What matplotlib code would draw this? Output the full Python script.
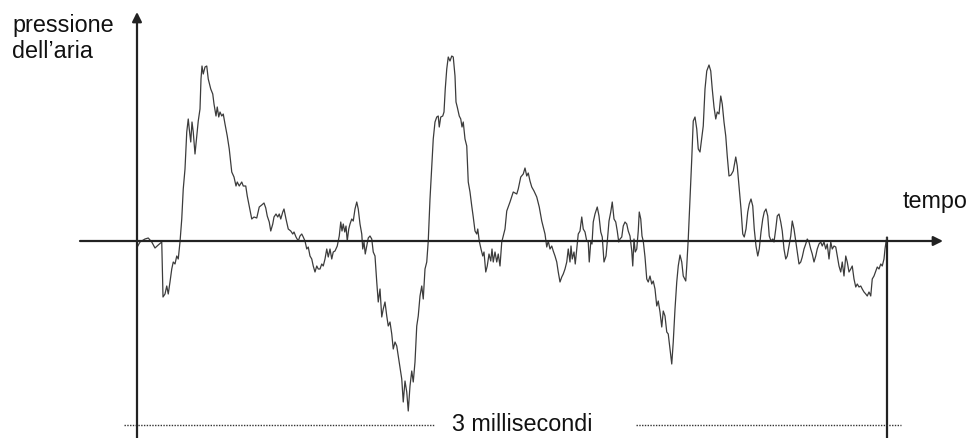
import matplotlib
matplotlib.use("Agg")
import matplotlib.pyplot as plt

# ---- data: air pressure trace over 3 ms (time in microseconds, pressure in arbitrary units)
time_us = [1, 12, 32, 45, 59, 72, 85, 99, 104, 112, 119, 125, 132, 139, 145, 152, 159, 165,
           172, 179, 185, 192, 199, 205, 209, 215, 220, 225, 232, 239, 245, 252, 256, 260,
           265, 272, 279, 285, 295, 303, 308, 316, 321, 327, 332, 339, 345, 352, 361, 369,
           379, 388, 396, 401, 409, 419, 425, 435, 441, 449, 459, 468, 479, 489, 499, 508,
           515, 521, 529, 535, 543, 548, 556, 563, 569, 575, 583, 588, 596, 605, 615, 623,
           628, 636, 645, 652, 659, 665, 672, 679, 685, 692, 699, 705, 712, 719, 725,
           732, 739, 745, 752, 759, 765, 772, 779, 785, 792, 801, 809, 815, 820, 825, 831,
           836, 841, 847, 852, 859, 865, 872, 879, 885, 892, 899, 903, 908, 913, 919, 925,
           932, 939, 945, 952, 959, 965, 972, 979, 985, 992, 999, 1005, 1012, 1019, 1025,
           1032, 1039, 1045, 1052, 1059, 1065, 1072, 1079, 1085, 1092, 1099, 1105, 1112,
           1119, 1125, 1132, 1139, 1145, 1152, 1159, 1165, 1172, 1179, 1185, 1192, 1199,
           1205, 1209, 1215, 1223, 1228, 1233, 1239, 1245, 1252, 1259, 1265, 1272, 1276,
           1281, 1289, 1295, 1300, 1305, 1312, 1319, 1325, 1332, 1339, 1345, 1352, 1359,
           1363, 1369, 1376, 1383, 1388, 1395, 1401, 1408, 1415, 1420, 1425, 1432, 1439,
           1445, 1452, 1459, 1465, 1472, 1479, 1492, 1505, 1519, 1525, 1535, 1545, 1552,
           1559, 1565, 1572, 1579, 1588, 1599, 1609, 1619, 1625, 1632, 1639, 1645, 1652,
           1659, 1665, 1672, 1679, 1685, 1692, 1699, 1705, 1712, 1719, 1725, 1732, 1736,
           1741, 1748, 1753, 1759, 1765, 1772, 1779, 1785, 1792, 1799, 1805, 1809, 1815,
           1820, 1825, 1832, 1841, 1848, 1855, 1861, 1868, 1876, 1881, 1888, 1895, 1901,
           1908, 1915, 1921, 1927, 1932, 1939, 1945, 1952, 1959, 1965, 1972, 1979, 1983,
           1988, 1993, 1999, 2005, 2009, 2015, 2020, 2025, 2032, 2039, 2045, 2052, 2059,
           2065, 2072, 2079, 2085, 2092, 2099, 2105, 2112, 2119, 2125, 2132, 2139, 2145,
           2152, 2159, 2165, 2172, 2179, 2185, 2195, 2199, 2205, 2212, 2219, 2225, 2232,
           2239, 2245, 2252, 2265, 2272, 2279, 2288, 2295, 2301, 2308, 2315, 2321, 2328,
           2335, 2341, 2348, 2355, 2361, 2368, 2376, 2385, 2395, 2401, 2409, 2416, 2423,
           2429, 2436, 2443, 2449, 2456, 2463, 2469, 2476, 2483, 2489, 2496, 2503, 2509,
           2516, 2523, 2529, 2536, 2543, 2548, 2555, 2561, 2568, 2575, 2581, 2588, 2595,
           2601, 2608, 2615, 2621, 2628, 2635, 2641, 2648, 2655, 2661, 2668, 2675, 2681,
           2688, 2695, 2701, 2708, 2715, 2721, 2728, 2735, 2741, 2748, 2755, 2761, 2768,
           2775, 2781, 2788, 2795, 2801, 2808, 2815, 2821, 2828, 2835, 2841, 2848, 2855,
           2861, 2868, 2875, 2881, 2888, 2895, 2901, 2908, 2915, 2921, 2928, 2935, 2941,
           2948, 2955, 2961, 2968, 2975, 2981, 2988, 2992, 2996, 3000]
pressure = [-6, -1, 2, 3, -1, -7, -4, -1, -56, -53, -45, -53, -41, -28, -21, -23, -15, -18,
            -1, 22, 52, 72, 109, 122, 112, 99, 119, 109, 87, 105, 120, 132, 162, 175,
            167, 174, 175, 162, 152, 147, 137, 125, 134, 124, 129, 125, 127, 117, 105, 92,
            69, 64, 55, 59, 55, 59, 55, 55, 45, 35, 22, 24, 23, 34, 36, 38,
            33, 25, 19, 10, 17, 24, 27, 24, 27, 22, 29, 32, 22, 12, 10, 7,
            9, 4, 0, 5, 7, 4, 0, -8, -6, -15, -18, -25, -31, -25, -28,
            -28, -23, -25, -18, -8, -16, -8, -18, -11, -10, -5, 5, 19, 10, 17, 9,
            15, 0, 12, 17, 22, 20, 32, 39, 32, 17, 7, -8, -1, -13, -5, 3,
            5, 2, -11, -15, -41, -61, -48, -76, -68, -61, -75, -85, -81, -93, -108,
            -101, -105, -115, -126, -138, -161, -140, -151, -170, -145, -130, -141, -121,
            -85, -75, -55, -45, -58, -28, -21, 0, 42, 75, 102, 119, 124,
            125, 114, 124, 125, 129, 152, 172, 184, 180, 185, 184, 165, 139,
            134, 125, 122, 114, 119, 102, 95, 59, 49, 35, 24, 10, 7,
            12, 0, -8, -15, -11, -31, -25, -13, -20, -8, -21, -11, -21,
            -13, -25, -1, 5, 12, 30, 39, 49, 47, 52, 64, 67, 73,
            65, 68, 60, 54, 50, 44, 34, 20, 14, 7, -6, 0, -8,
            -5, -10, -15, -21, -31, -41, -36, -33, -28, -21, -8, -21, -5,
            -18, -11, -23, -8, 7, 10, 24, 12, 9, 0, -1, -21, -1,
            -3, 19, 27, 34, 25, 9, 4, -21, -15, -1, 20, 29, 39,
            22, 19, 10, -1, 2, 4, 15, 19, 17, 10, 5, -10, -25,
            2, -11, -8, 10, 29, 22, 5, 0, -16, -38, -41, -35, -43,
            -40, -48, -65, -60, -71, -86, -70, -75, -91, -93, -108, -123, -101,
            -68, -41, -25, -14, -21, -35, -40, -25, 2, 42, 82, 120, 124,
            112, 92, 89, 115, 152, 170, 176, 170, 152, 134, 122, 129, 127,
            145, 137, 119, 105, 85, 65, 66, 70, 84, 75, 52, 32, 7,
            4, 12, 29, 37, 42, 35, 12, -5, -15, -8, 9, 22, 29,
            32, 25, 5, 0, 2, -1, 12, 25, 27, 19, 10, -8, -18,
            -15, -5, 5, 20, 12, 0, -11, -23, -21, -16, -8, -3, 2,
            -1, -8, -13, -21, -15, -8, -3, -1, -5, -1, -8, -3, -18,
            -1, -8, -5, -6, -15, -25, -31, -21, -35, -15, -21, -31, -28,
            -25, -38, -46, -43, -46, -45, -48, -51, -53, -55, -51, -55, -38,
            -35, -30, -26, -28, -23, -25, -18, -8, -1, 4]

span_label = "3 millisecondi"
y_label_lines = ["pressione", "dell\u2019aria"]
x_label = "tempo"

plt.rcParams["font.family"] = ["Liberation Sans", "DejaVu Sans"]
FS = 16.8

fig = plt.figure(figsize=(9.71, 4.39), dpi=100)
ax = fig.add_axes([0, 0, 1, 1])
ax.set_xlim(-548, 3336)
ax.set_ylim(-197, 242)
ax.axis("off")

axis_col = "#222222"
# x axis (time)
ax.annotate("", xy=(3224, 0), xytext=(-228, 0),
            arrowprops=dict(arrowstyle="-|>", color=axis_col, lw=1.6,
                            mutation_scale=14, shrinkA=0, shrinkB=0))
# y axis (pressure)
ax.annotate("", xy=(0, 229), xytext=(0, -197),
            arrowprops=dict(arrowstyle="-|>", color=axis_col, lw=1.6,
                            mutation_scale=14, shrinkA=0, shrinkB=0))
# end marker at 3 ms
ax.plot([3000, 3000], [4, -197], color=axis_col, lw=1.6, solid_capstyle="butt")

# waveform
ax.plot(time_us, pressure, color="#3c3c3c", lw=0.9)

# span indicator
ax.plot([-52, 1192], [-184, -184], color="#333333", lw=1.0, linestyle=(0, (1, 1)))
ax.plot([1996, 3056], [-184, -184], color="#333333", lw=1.0, linestyle=(0, (1, 1)))
ax.text(1258, -183, span_label, ha="left", va="center", fontsize=FS, color="#111111")

ax.text(3064, 34, x_label, ha="left", va="baseline", fontsize=FS, color="#111111")
for i, line in enumerate(y_label_lines):
    ax.text(-500, 210.3 - 26.3 * i, line, ha="left", va="baseline", fontsize=FS,
            color="#111111")

fig.savefig("out.png", dpi=100)
